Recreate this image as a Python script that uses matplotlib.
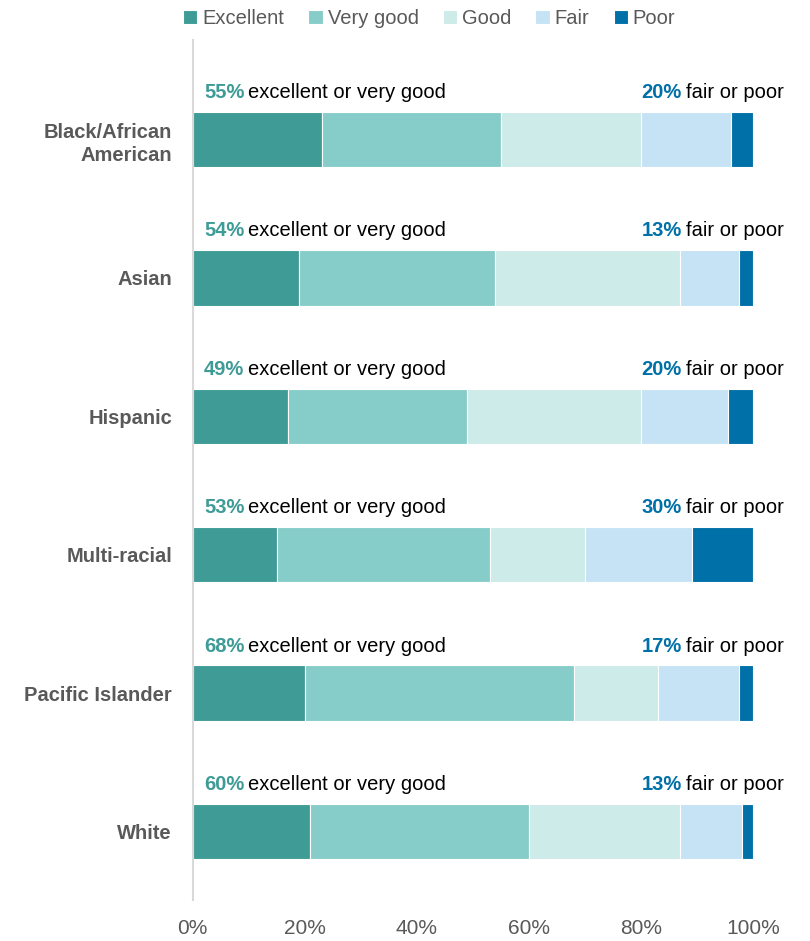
import matplotlib
matplotlib.use("Agg")
import matplotlib.pyplot as plt
from matplotlib import font_manager
import numpy as np

# Self-rated health by race/ethnicity (percent of respondents)
groups = ["Black/African\nAmerican", "Asian", "Hispanic", "Multi-racial",
          "Pacific Islander", "White"]
excellent = [23, 19, 17, 15, 20, 21]
very_good = [32, 35, 32, 38, 48, 39]
good = [25, 33, 31, 17, 15, 27]
fair = [16, 10.5, 15.5, 19, 14.5, 11]
poor = [4, 2.5, 4.5, 11, 2.5, 2]
exc_vg_labels = [55, 54, 49, 53, 68, 60]
fair_poor_labels = [20, 13, 20, 30, 17, 13]

series_names = ["Excellent", "Very good", "Good", "Fair", "Poor"]
series_colors = ["#3E9B96", "#86CDC9", "#CDEBE9", "#C5E3F5", "#0070A8"]
xtick_vals = [0, 20, 40, 60, 80, 100]

installed = {f.name for f in font_manager.fontManager.ttflist}
family = ["Liberation Sans Narrow", "Liberation Sans", "DejaVu Sans"]
family = [f for f in family if f in installed] or ["DejaVu Sans"]
plt.rcParams["font.family"] = family

ANN_SIZE = 14.5

fig = plt.figure(figsize=(8.10, 9.41), dpi=100)
ax = fig.add_axes([0.238, 0.0436, 0.692, 0.914])

y = np.arange(len(groups))
left = np.zeros(len(groups))
series = [excellent, very_good, good, fair, poor]
for name, vals, col in zip(series_names, series, series_colors):
    vals = np.array(vals, dtype=float)
    ax.barh(y, vals, left=left, height=0.4, color=col, label=name,
            edgecolor="white", linewidth=0.8)
    left += vals

ax.set_xlim(0, 100)
ax.set_ylim(5.495, -0.72)

# Bold percentages with descriptive text above each bar
pct_left, txt_right = [], []
for i in range(len(groups)):
    ty = y[i] - 0.34
    pct_left.append(ax.text(2, ty, f"{exc_vg_labels[i]}%", color="#3E9B96",
                            fontsize=ANN_SIZE, fontweight="bold",
                            ha="left", va="center"))
    txt_right.append(ax.text(105.4, ty, "fair or poor", color="black",
                             fontsize=ANN_SIZE, ha="right", va="center"))

fig.canvas.draw()
renderer = fig.canvas.get_renderer()
inv = ax.transData.inverted()
for t in pct_left:
    bb = t.get_window_extent(renderer)
    x_end = inv.transform((bb.x1 + 4, 0))[0]
    ax.text(x_end, t.get_position()[1], "excellent or very good", color="black",
            fontsize=ANN_SIZE, ha="left", va="center")
for t, v in zip(txt_right, fair_poor_labels):
    bb = t.get_window_extent(renderer)
    x_start = inv.transform((bb.x0 - 4, 0))[0]
    ax.text(x_start, t.get_position()[1], f"{v}%", color="#0070A8",
            fontsize=ANN_SIZE, fontweight="bold", ha="right", va="center")

ax.set_yticks(y)
ax.set_yticklabels(groups, fontsize=14.5, fontweight="bold", color="#595959",
                   linespacing=1.3)
ax.set_xticks(xtick_vals)
ax.set_xticklabels([f"{v}%" for v in xtick_vals], fontsize=15, color="#595959")
ax.tick_params(axis="both", length=0)
ax.tick_params(axis="x", pad=14)
ax.tick_params(axis="y", pad=15)
for s in ["top", "right", "bottom"]:
    ax.spines[s].set_visible(False)
ax.spines["left"].set_color("#D9D9D9")
ax.spines["left"].set_linewidth(1.5)

handles, labels = ax.get_legend_handles_labels()
fig.legend(handles, labels, loc="center", bbox_to_anchor=(0.53, 0.980), ncol=5,
           frameon=False, fontsize=14.5, handlelength=0.7, handleheight=0.7,
           handletextpad=0.25, columnspacing=1.2, labelcolor="#595959")

fig.savefig("out.png", dpi=100)
